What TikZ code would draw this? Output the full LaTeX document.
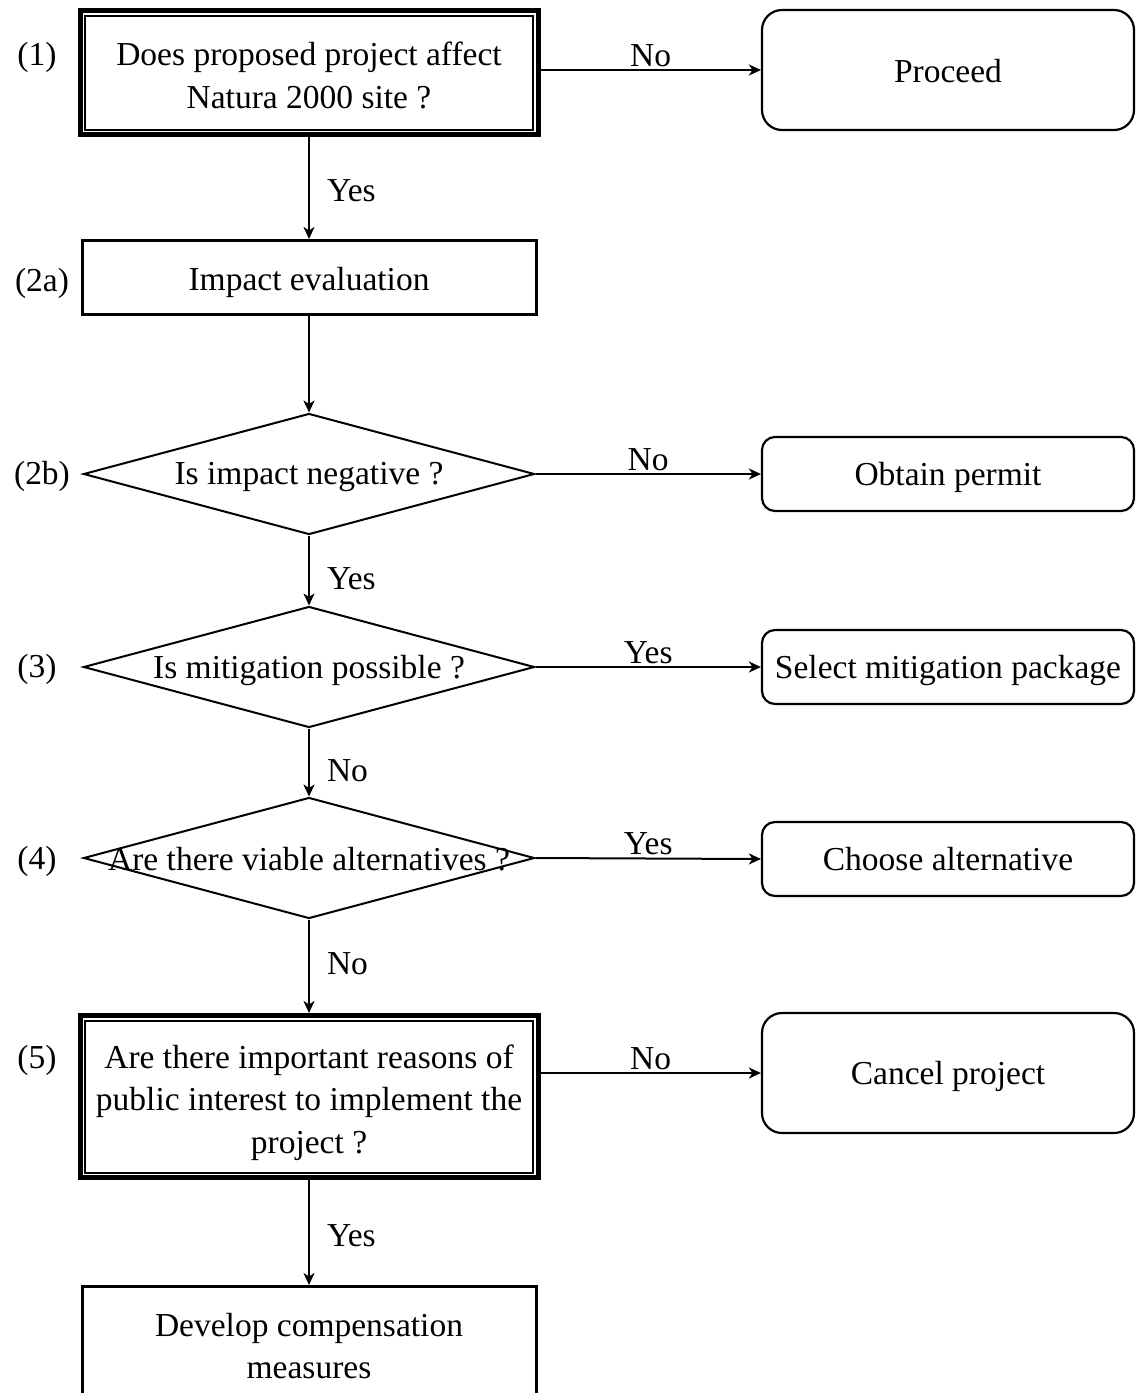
\documentclass[tikz,border=0pt]{standalone}
\usepackage{fontspec}
\setmainfont{Liberation Serif}
\usetikzlibrary{shapes.geometric,arrows.meta,calc}
\begin{document}
\begin{tikzpicture}[x=1pt,y=-1pt,
  every node/.style={font=\fontsize{33.5}{42.5}\selectfont},
  arr/.style={line width=2pt,-{Stealth[length=12pt,width=11pt,inset=3.5pt]}},
  dbl/.style={draw,line width=5pt,minimum width=458pt,inner sep=0pt},
  sbox/.style={draw,line width=3pt,minimum width=454pt,inner sep=0pt},
  rbox/.style={draw,line width=2.2pt,minimum width=372pt,inner sep=0pt},
  dia/.style={draw,diamond,line width=2pt,inner sep=0pt,minimum width=451pt,minimum height=121pt},
  vlab/.style={midway,right,inner sep=0pt,xshift=17pt},
  hlab/.style={midway,above,inner sep=0pt,yshift=2.5pt},
  lbl/.style={inner sep=0pt,align=center}
]
\useasboundingbox (0,0) rectangle (1136,1393);

% left column
\node[dbl,minimum height=124pt] (b1) at (309,72.5) {};
\draw[line width=2pt] ($(b1.north west)+(7.5,7.5)$) rectangle ($(b1.south east)+(-7.5,-7.5)$);
\node[lbl] (t1) at ($(b1)+(0,3)$) {Does proposed project affect\\Natura 2000 site ?};
\node[sbox,minimum height=74pt] (b2a) at (309,277.5) {};
\node[lbl] (t2a) at ($(b2a)+(0,5)$) {Impact evaluation};
\node[dia] (d2b) at (309,474) {};
\node[lbl] (t2b) at ($(d2b)+(0,3)$) {Is impact negative ?};
\node[dia] (d3) at (309,667) {};
\node[lbl] (t3) at ($(d3)+(0,3)$) {Is mitigation possible ?};
\node[dia] (d4) at (309,858) {};
\node[lbl] (t4) at ($(d4)+(0,1)$) {Are there viable alternatives ?};
\node[dbl,minimum height=162pt] (b5) at (309,1096.5) {};
\draw[line width=2pt] ($(b5.north west)+(7.5,7.5)$) rectangle ($(b5.south east)+(-7.5,-7.5)$);
\node[lbl] (t5) at ($(b5)+(0,6)$) {Are there important reasons of\\public interest to implement the\\project ?};
\node[sbox,minimum height=119pt] (b6) at (309,1346) {};
\node[lbl] (t6) at (b6) {Develop compensation\\measures};

% right column
\node[rbox,rounded corners=20pt,minimum height=120pt] (pro) at (948,70) {};
\node[lbl] (tpro) at ($(pro)+(0,1)$) {Proceed};
\node[rbox,rounded corners=13pt,minimum height=74pt] (obt) at (948,474) {};
\node[lbl] (tobt) at ($(obt)+(0,3)$) {Obtain permit};
\node[rbox,rounded corners=13pt,minimum height=74pt] (sel) at (948,667) {};
\node[lbl] (tsel) at ($(sel)+(0,3)$) {Select mitigation package};
\node[rbox,rounded corners=13pt,minimum height=74pt] (cho) at (948,859) {};
\node[lbl] (tcho) at ($(cho)+(0,0)$) {Choose alternative};
\node[rbox,rounded corners=20pt,minimum height=120pt] (can) at (948,1073) {};
\node[lbl] (tcan) at ($(can)+(0,3)$) {Cancel project};

% step numbers
\node[lbl] (n1) at (37,57) {(1)};
\node[lbl] (n2a) at (42,283) {(2a)};
\node[lbl] (n2b) at (42,476) {(2b)};
\node[lbl] (n3) at (37,669) {(3)};
\node[lbl] (n4) at (37,861) {(4)};
\node[lbl] (n5) at (37,1060) {(5)};

% vertical connectors
\draw[arr] (b1.south) -- node[vlab,yshift=-3pt] (y1) {Yes} (b2a.north);
\draw[arr] (b2a.south) -- (d2b.north);
\draw[arr] (d2b.south) -- node[vlab,yshift=-8pt] (y2) {Yes} (d3.north);
\draw[arr] (d3.south) -- node[vlab,yshift=-8pt] (y3) {No} (d4.north);
\draw[arr] (d4.south) -- node[vlab,yshift=3pt] (y4) {No} (b5.north);
\draw[arr] (b5.south) -- node[vlab,yshift=-3pt] (y5) {Yes} (b6.north);

% horizontal connectors
\draw[arr] (b1.east |- pro.west) -- node[hlab] (h1) {No} (pro.west);
\draw[arr] (d2b.east) -- node[hlab] (h2) {No} (obt.west);
\draw[arr] (d3.east) -- node[hlab] (h3) {Yes} (sel.west);
\draw[arr] (d4.east) -- node[hlab] (h4) {Yes} (cho.west);
\draw[arr] (b5.east |- can.west) -- node[hlab] (h5) {No} (can.west);
\end{tikzpicture}
\end{document}
